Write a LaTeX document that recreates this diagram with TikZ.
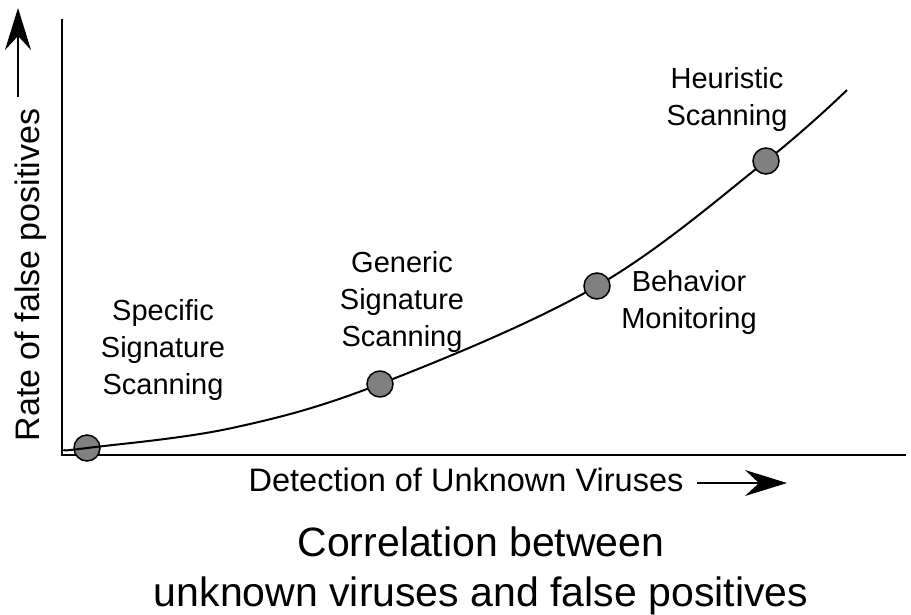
\documentclass[tikz,border=0pt]{standalone}
\usepackage{fontspec}
\setmainfont{Liberation Sans}
\usetikzlibrary{arrows.meta}
\definecolor{dotgray}{RGB}{128,128,128}

\begin{document}
\begin{tikzpicture}[x=1pt, y=-1pt,
  dot/.style={draw, circle, fill=dotgray, line width=1.5pt, minimum size=26pt, inner sep=0pt},
  lbl/.style={align=center, inner sep=0pt, font=\fontsize{29}{37}\selectfont},
  bigarrow/.style={line width=2pt, -{Stealth[length=42pt, width=26pt, inset=14pt]}}]
\useasboundingbox (0,0) rectangle (911,614);
% axes
\coordinate (Ytop) at (62,19);
\coordinate (Xend) at (906,455);
\draw[line width=2.6pt] (Ytop) |- (Xend);
% points on the curve
\coordinate (P0) at (65,450);
\coordinate (P1) at (87,448);
\coordinate (Pa) at (232,428);
\coordinate (P2) at (380,384);
\coordinate (P3) at (597,286);
\coordinate (P4) at (766,161);
\coordinate (P5) at (847,90);
\node[dot] (spec) at (P1) {};
\draw[line width=2pt] plot[smooth, tension=0.6] coordinates {(P0) (P1) (Pa) (P2) (P3) (P4) (P5)};
\node[dot] (gen) at (P2) {};
\node[dot] (beh) at (P3) {};
\node[dot] (heur) at (P4) {};
% labels
\node[lbl] (specL) at (163,350) {Specific\\Signature\\Scanning};
\node[lbl] (genL) at (402,302) {Generic\\Signature\\Scanning};
\node[lbl] (behL) at (689,302) {Behavior\\Monitoring};
\node[lbl] (heurL) at (727,99) {Heuristic\\Scanning};
% axis titles
\node[rotate=90, inner sep=0pt, font=\fontsize{34}{40}\selectfont] (ylab) at (31,275) {Rate of false positives};
\coordinate (YA0) at (18,97);
\coordinate (YA1) at (18,8);
\draw[bigarrow] (YA0) -- (YA1);
\node[inner sep=0pt, font=\fontsize{32.5}{40}\selectfont] (xlab) at (466,480) {Detection of Unknown Viruses};
\coordinate (XA0) at (697,483);
\coordinate (XA1) at (787,483);
\draw[bigarrow] (XA0) -- (XA1);
% caption
\node[align=center, inner sep=0pt, font=\fontsize{41}{50}\selectfont] (title) at (481,571) {Correlation between\\unknown viruses and false positives};
\end{tikzpicture}
\end{document}
